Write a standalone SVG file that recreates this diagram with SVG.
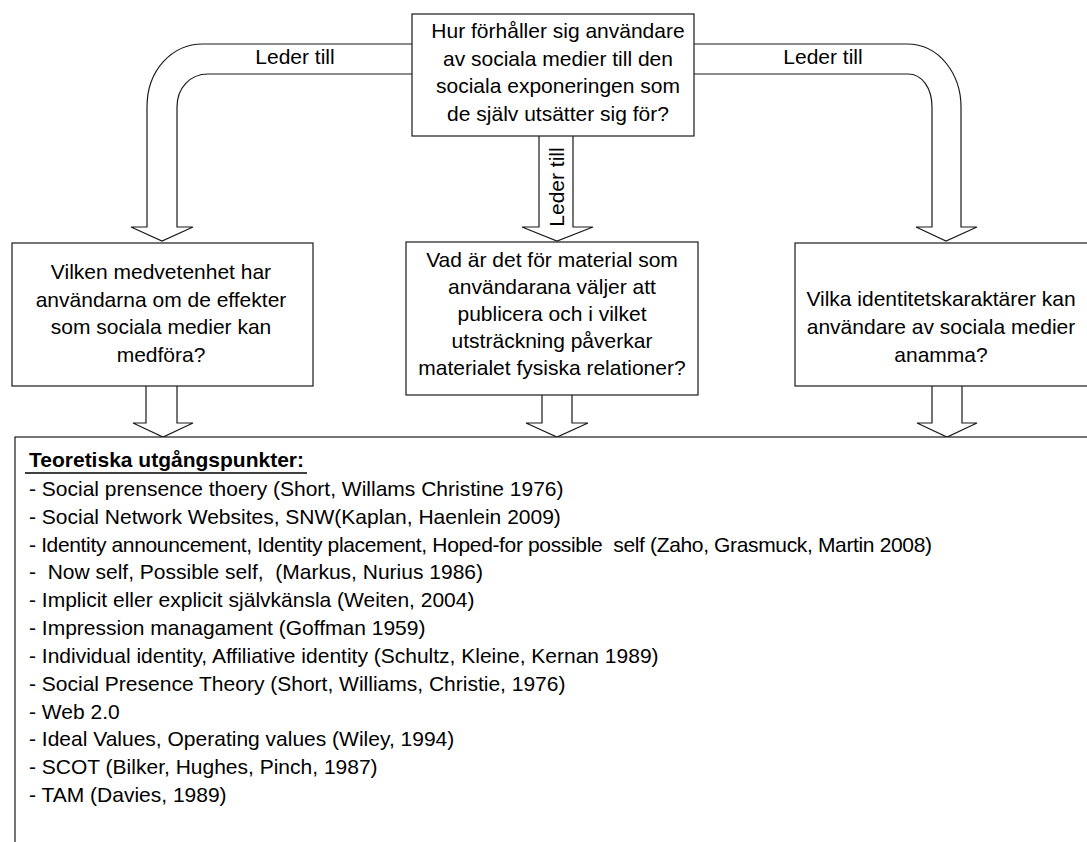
<svg xmlns="http://www.w3.org/2000/svg" width="1087" height="842" viewBox="0 0 1087 842">
<style>
.box{fill:#fff;stroke:#1a1a1a;stroke-width:1.2}
.arr{fill:#fff;stroke:#1a1a1a;stroke-width:1.2;stroke-linejoin:miter}
.t{font-family:"Liberation Sans",Arial,sans-serif;font-size:21px;fill:#000}
.c{text-anchor:middle}
.h{font-weight:bold}
</style>
<rect width="1087" height="842" fill="#fff"/>
<g id="connectors">
  <path class="arr" d="M412,44 L203,44 C172,44 147,70 147,107 L147,227 L131,227 L162,241 L193,227 L177,227 L177,107 C177,88 190,74 208,74 L412,74"/>
  <path class="arr" d="M694,44 L907,44 C940,44 961,75 961,107 L961,227 L977,227 L946,241 L916,227 L932,227 L932,107 C932,88 922,74 908,74 L694,74"/>
  <path class="arr" d="M539,136 L539,227 L522,227 L557,241 L593,227 L573,227 L573,136"/>
  <path class="arr" d="M146,386 L146,423 L133,423 L163,437 L193,423 L177,423 L177,386"/>
  <path class="arr" d="M542,395 L542,423 L526,423 L557,437 L588,423 L572,423 L572,395"/>
  <path class="arr" d="M932,386 L932,423 L917,423 L947,437 L977,423 L962,423 L962,386"/>
  <text class="t c" x="295" y="64">Leder till</text>
  <text class="t c" x="823" y="64">Leder till</text>
  <text class="t c" transform="translate(564,187) rotate(-90)" x="0" y="0">Leder till</text>
</g>
<g id="node-top">
  <rect class="box" x="412" y="14" width="282" height="122"/>
  <text class="t c" x="558" y="38">Hur förhåller sig användare</text>
  <text class="t c" x="558" y="66">av sociala medier till den</text>
  <text class="t c" x="558" y="93">sociala exponeringen som</text>
  <text class="t c" x="558" y="121">de själv utsätter sig för?</text>
</g>
<g id="node-left">
  <rect class="box" x="12" y="243" width="301" height="143"/>
  <text class="t c" x="161" y="279">Vilken medvetenhet har</text>
  <text class="t c" x="161" y="307">användarna om de effekter</text>
  <text class="t c" x="161" y="334">som sociala medier kan</text>
  <text class="t c" x="161" y="362">medföra?</text>
</g>
<g id="node-middle">
  <rect class="box" x="406" y="242" width="292" height="153"/>
  <text class="t c" x="552" y="267">Vad är det för material som</text>
  <text class="t c" x="552" y="294">användarana väljer att</text>
  <text class="t c" x="552" y="321">publicera och i vilket</text>
  <text class="t c" x="552" y="348">utsträckning påverkar</text>
  <text class="t c" x="552" y="375">materialet fysiska relationer?</text>
</g>
<g id="node-right">
  <rect class="box" x="795" y="243" width="310" height="143"/>
  <text class="t c" x="941" y="306">Vilka identitetskaraktärer kan</text>
  <text class="t c" x="941" y="334">användare av sociala medier</text>
  <text class="t c" x="941" y="362">anamma?</text>
</g>
<g id="node-bottom">
  <rect class="box" x="15" y="437" width="1100" height="420"/>
  <text class="t h" x="29" y="467">Teoretiska utgångspunkter:</text>
  <line x1="25" y1="473" x2="307" y2="473" stroke="#000" stroke-width="1.5"/>
  <text class="t" x="29" y="496">- Social prensence thoery (Short, Willams Christine 1976)</text>
  <text class="t" x="29" y="524">- Social Network Websites, SNW(Kaplan, Haenlein 2009)</text>
  <text class="t" x="29" y="552" letter-spacing="-0.35" xml:space="preserve">- Identity announcement, Identity placement, Hoped-for possible  self (Zaho, Grasmuck, Martin 2008)</text>
  <text class="t" x="29" y="579" xml:space="preserve">-  Now self, Possible self,  (Markus, Nurius 1986)</text>
  <text class="t" x="29" y="607">- Implicit eller explicit självkänsla (Weiten, 2004)</text>
  <text class="t" x="29" y="635">- Impression managament (Goffman 1959)</text>
  <text class="t" x="29" y="663">- Individual identity, Affiliative identity (Schultz, Kleine, Kernan 1989)</text>
  <text class="t" x="29" y="691">- Social Presence Theory (Short, Williams, Christie, 1976)</text>
  <text class="t" x="29" y="719">- Web 2.0</text>
  <text class="t" x="29" y="746">- Ideal Values, Operating values (Wiley, 1994)</text>
  <text class="t" x="29" y="774">- SCOT (Bilker, Hughes, Pinch, 1987)</text>
  <text class="t" x="29" y="802">- TAM (Davies, 1989)</text>
</g>
</svg>
